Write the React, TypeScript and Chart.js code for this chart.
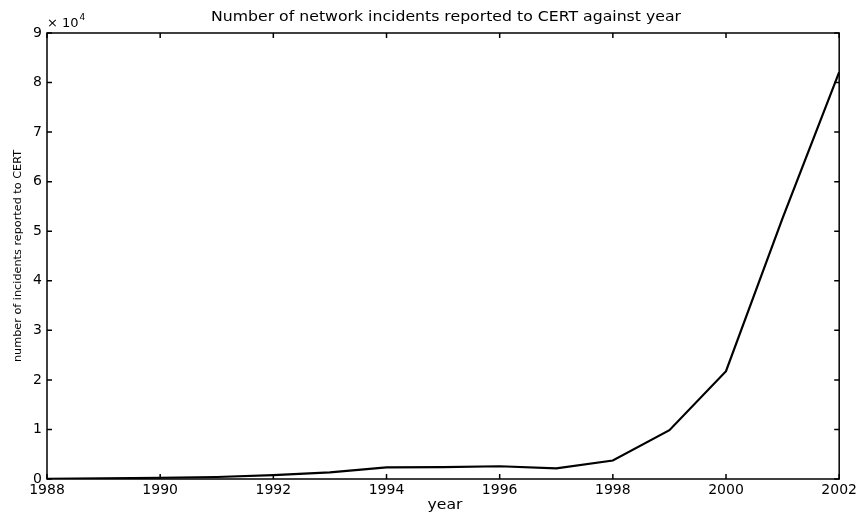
import React, { useEffect, useRef } from "react";
import { Chart, registerables } from "chart.js";

Chart.register(...registerables);

const years = [1988, 1989, 1990, 1991, 1992, 1993, 1994, 1995, 1996, 1997, 1998, 1999, 2000, 2001, 2002];
const incidents = [6, 132, 252, 406, 773, 1334, 2340, 2412, 2573, 2134, 3734, 9859, 21756, 52658, 82094];
const xTickValues = [1988, 1990, 1992, 1994, 1996, 1998, 2000, 2002];
const yTickValues = [0, 10000, 20000, 30000, 40000, 50000, 60000, 70000, 80000, 90000];

const titleText = "Number of network incidents reported to CERT against year";
const xTitle = "year";
const yTitle = "number of incidents reported to CERT";

const FONT = "'DejaVu Sans', 'Liberation Sans', sans-serif";

function stretchedText(ctx: any, text: string, cx: number, cy: number, targetW: number) {
  const w = ctx.measureText(text).width;
  const s = targetW / w;
  ctx.save();
  ctx.translate(cx, cy);
  ctx.scale(s, 1);
  ctx.fillText(text, 0, 0);
  ctx.restore();
}

const framePlugin = {
  id: "matlabFrame",
  afterDraw(chart: any) {
    const { ctx, chartArea } = chart;
    const { left, right, top, bottom } = chartArea;
    const xs = chart.scales.x;
    const ys = chart.scales.y;
    ctx.save();
    ctx.strokeStyle = "#000";
    ctx.lineWidth = 1.5;
    ctx.strokeRect(left, top, right - left, bottom - top);
    const tl = 5;
    ctx.beginPath();
    xTickValues.forEach((v) => {
      const px = xs.getPixelForValue(v);
      ctx.moveTo(px, bottom);
      ctx.lineTo(px, bottom - tl);
      ctx.moveTo(px, top);
      ctx.lineTo(px, top + tl);
    });
    yTickValues.forEach((v) => {
      const py = ys.getPixelForValue(v);
      ctx.moveTo(left, py);
      ctx.lineTo(left + tl, py);
      ctx.moveTo(right, py);
      ctx.lineTo(right - tl, py);
    });
    ctx.stroke();

    ctx.fillStyle = "#000";
    ctx.textAlign = "center";
    ctx.textBaseline = "middle";
    ctx.font = `14px ${FONT}`;
    stretchedText(ctx, titleText, 446, 17, 470);
    stretchedText(ctx, xTitle, 445, 505, 35);

    ctx.save();
    ctx.translate(18, (top + bottom) / 2);
    ctx.rotate(-Math.PI / 2);
    ctx.font = `11px ${FONT}`;
    stretchedText(ctx, yTitle, 0, 0, 212);
    ctx.restore();

    ctx.textAlign = "left";
    ctx.font = `13px ${FONT}`;
    ctx.fillText("\u00d7 10", left, 24);
    const w = ctx.measureText("\u00d7 10").width;
    ctx.font = `9px ${FONT}`;
    ctx.fillText("4", left + w + 1, 18);
    ctx.restore();
  },
};

export default function App() {
  const ref = useRef<HTMLCanvasElement>(null);
  useEffect(() => {
    document.body.style.margin = "0";
    const canvas = ref.current!;
    const chart = new Chart(canvas, {
      type: "line",
      data: {
        datasets: [
          {
            data: years.map((y, i) => ({ x: y, y: incidents[i] })),
            borderColor: "#000",
            borderWidth: 2.2,
            pointRadius: 0,
            fill: false,
            tension: 0,
          },
        ],
      },
      options: {
        animation: false,
        responsive: false,
        maintainAspectRatio: false,
        layout: { padding: { top: 33, right: 19, left: 0, bottom: 0 } },
        plugins: { legend: { display: false }, title: { display: false }, tooltip: { enabled: false } },
        scales: {
          x: {
            type: "linear",
            min: 1988,
            max: 2002,
            afterBuildTicks: (scale: any) => {
              scale.ticks = xTickValues.map((v) => ({ value: v }));
            },
            afterFit: (scale: any) => {
              scale.height = 33;
            },
            grid: { display: false, drawTicks: false },
            border: { display: false },
            ticks: {
              color: "#000",
              font: { family: FONT, size: 14 },
              padding: 3,
              maxRotation: 0,
              autoSkip: false,
              callback: (v: any) => String(v),
            },
          },
          y: {
            type: "linear",
            min: 0,
            max: 90000,
            afterBuildTicks: (scale: any) => {
              scale.ticks = yTickValues.map((v) => ({ value: v }));
            },
            afterFit: (scale: any) => {
              scale.width = 47;
            },
            grid: { display: false, drawTicks: false },
            border: { display: false },
            ticks: {
              color: "#000",
              font: { family: FONT, size: 14 },
              padding: 5,
              autoSkip: false,
              callback: (v: any) => String(Number(v) / 10000),
            },
          },
        },
      },
      plugins: [framePlugin],
    });
    return () => chart.destroy();
  }, []);
  return (
    <div style={{ width: 860, height: 512, background: "#fff" }}>
      <canvas ref={ref} width={860} height={512} />
    </div>
  );
}
